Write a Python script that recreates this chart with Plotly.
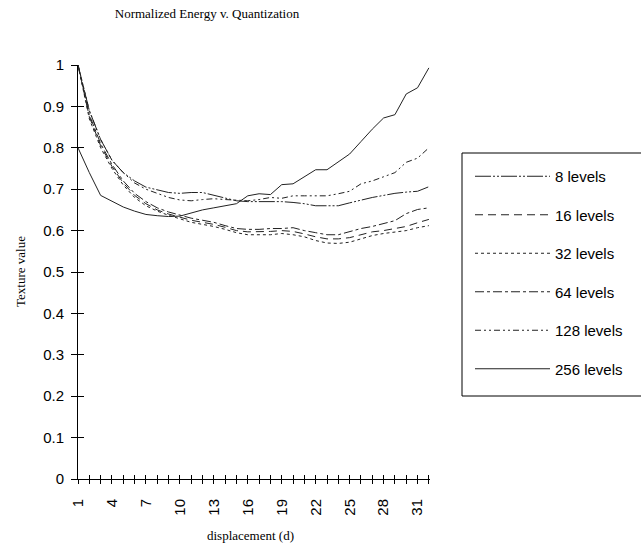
import plotly.graph_objects as go

displacement = list(range(1, 33))
tick_labels = [str(d) if (d - 1) % 3 == 0 else "" for d in displacement]
y_ticks = [0, 0.1, 0.2, 0.3, 0.4, 0.5, 0.6, 0.7, 0.8, 0.9, 1]
y_tick_labels = ["0", "0.1", "0.2", "0.3", "0.4", "0.5", "0.6", "0.7", "0.8", "0.9", "1"]

levels_8 = [1.0, 0.89, 0.82, 0.77, 0.74, 0.72, 0.705, 0.698, 0.692, 0.69, 0.692, 0.692, 0.685, 0.678,
            0.672, 0.67, 0.67, 0.67, 0.67, 0.668, 0.665, 0.66, 0.66, 0.66, 0.667, 0.674, 0.68, 0.685,
            0.69, 0.693, 0.695, 0.706]
levels_16 = [1.0, 0.875, 0.805, 0.755, 0.715, 0.685, 0.665, 0.65, 0.64, 0.632, 0.625, 0.62, 0.615, 0.608,
             0.60, 0.597, 0.597, 0.598, 0.60, 0.598, 0.592, 0.585, 0.58, 0.58, 0.583, 0.59, 0.597, 0.60,
             0.605, 0.61, 0.619, 0.627]
levels_32 = [1.0, 0.87, 0.80, 0.75, 0.71, 0.68, 0.66, 0.647, 0.637, 0.628, 0.62, 0.615, 0.61, 0.603,
             0.595, 0.59, 0.59, 0.59, 0.593, 0.59, 0.585, 0.576, 0.57, 0.569, 0.572, 0.58, 0.588, 0.593,
             0.597, 0.60, 0.607, 0.612]
levels_64 = [1.0, 0.88, 0.81, 0.76, 0.72, 0.69, 0.67, 0.655, 0.645, 0.637, 0.63, 0.625, 0.62, 0.612,
             0.605, 0.603, 0.603, 0.605, 0.605, 0.607, 0.60, 0.595, 0.59, 0.59, 0.597, 0.605, 0.61, 0.617,
             0.624, 0.641, 0.651, 0.655]
levels_128 = [1.0, 0.89, 0.82, 0.77, 0.74, 0.715, 0.70, 0.69, 0.68, 0.674, 0.672, 0.675, 0.677, 0.675,
              0.673, 0.672, 0.675, 0.68, 0.678, 0.684, 0.684, 0.684, 0.684, 0.689, 0.695, 0.713, 0.72,
              0.73, 0.74, 0.765, 0.775, 0.80]
levels_256 = [0.80, 0.74, 0.685, 0.67, 0.657, 0.647, 0.639, 0.636, 0.634, 0.635, 0.643, 0.65, 0.655, 0.66,
              0.665, 0.684, 0.689, 0.687, 0.711, 0.713, 0.73, 0.747, 0.747, 0.765, 0.785, 0.815, 0.845,
              0.872, 0.88, 0.93, 0.945, 0.993]

series_names = ["8 levels", "16 levels", "32 levels", "64 levels", "128 levels", "256 levels"]
series_values = [levels_8, levels_16, levels_32, levels_64, levels_128, levels_256]
dashes = ["16px,2px,2px,2px,2px,2px", "8px,5px", "3px,3px", "dashdot", "6px,3px,2px,3px,2px,3px", "solid"]

fig = go.Figure()
for i, (name, vals, dash) in enumerate(zip(series_names, series_values, dashes)):
    fig.add_trace(go.Scatter(
        x=displacement, y=vals, name=name, mode="lines",
        line=dict(color="#222222", width=1, dash=dash),
        legendgroup=f"g{i}",
    ))

# invisible trace to carry the overlay axes (crossing tick marks)
fig.add_trace(go.Scatter(x=[displacement[0]], y=[0], xaxis="x2", yaxis="y2",
                         mode="markers", marker=dict(opacity=0), showlegend=False, hoverinfo="skip"))

base_font = dict(family="Liberation Sans, Arial, sans-serif", size=15, color="black")
serif = dict(family="Liberation Serif, Times New Roman, serif", size=13, color="black")

PW, PH = 352, 414


def px_x(p):
    return (p - 78) / PW


def px_y(p):
    return (479 - p) / PH


fig.update_layout(
    width=641, height=544,
    margin=dict(l=78, r=211, t=65, b=65),
    paper_bgcolor="white", plot_bgcolor="white",
    showlegend=True,
    title=dict(text="Normalized Energy v. Quantization", font=serif,
               x=207 / 641, xanchor="center", xref="container", y=1 - 13 / 544, yanchor="middle"),
    xaxis=dict(range=[1, 32.1], tickvals=displacement, ticktext=tick_labels, tickangle=-90,
               ticks="outside", ticklen=4, tickcolor="black", tickwidth=1,
               showline=True, linecolor="black", linewidth=1, showgrid=False, zeroline=False,
               tickfont=base_font, ticklabelstandoff=9),
    yaxis=dict(range=[0, 1], tickvals=y_ticks, ticktext=y_tick_labels,
               ticks="outside", ticklen=6, tickcolor="black", tickwidth=1,
               showline=True, linecolor="black", linewidth=1, showgrid=False, zeroline=False,
               tickfont=base_font, ticklabelstandoff=4),
    xaxis2=dict(range=[1, 32.1], overlaying="x", tickvals=displacement, ticks="inside", ticklen=4,
                tickcolor="black", showticklabels=False, showline=False, showgrid=False,
                zeroline=False, side="bottom", anchor="y2"),
    yaxis2=dict(range=[0, 1], overlaying="y", tickvals=y_ticks, ticks="inside", ticklen=6,
                tickcolor="black", showticklabels=False, showline=False, showgrid=False,
                zeroline=False, side="left", anchor="x2"),
    legend=dict(x=px_x(470), xanchor="left", y=px_y(160), yanchor="top",
                borderwidth=0, bgcolor="rgba(0,0,0,0)",
                font=base_font, tracegroupgap=16, itemwidth=75),
    shapes=[
        dict(type="rect", xref="paper", yref="paper",
             x0=px_x(462), x1=px_x(660), y0=px_y(396), y1=px_y(153),
             line=dict(color="black", width=1), fillcolor="rgba(0,0,0,0)", layer="below"),
    ],
    annotations=[
        dict(text="Texture value", font=serif, textangle=-90, x=px_x(20), y=0.5,
             xref="paper", yref="paper", xanchor="center", yanchor="middle", showarrow=False),
        dict(text="displacement (d)", font=serif, x=px_x(250), y=px_y(535),
             xref="paper", yref="paper", xanchor="center", yanchor="middle", showarrow=False),
    ],
)

fig.write_html("out.html")
